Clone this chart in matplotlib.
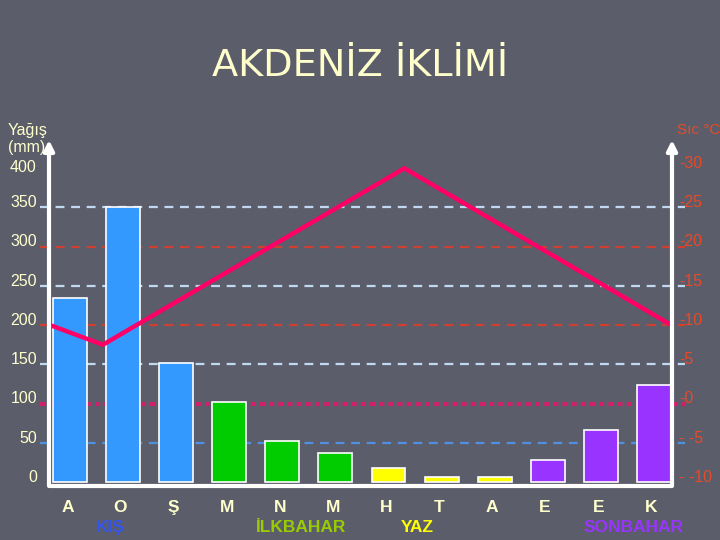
import matplotlib
matplotlib.use("Agg")
import matplotlib.pyplot as plt

# ---------------- data ----------------
months = ["A", "O", "Ş", "M", "N", "M", "H", "T", "A", "E", "E", "K"]
rain_mm = [235, 350, 152, 102, 52, 37, 18, 6, 6, 28, 66, 124]
bar_colors = ["#3399ff", "#3399ff", "#3399ff",
              "#00cc00", "#00cc00", "#00cc00",
              "#ffff00", "#ffff00", "#ffff00",
              "#9933ff", "#9933ff", "#9933ff"]
# schematic temperature line (month-position, °C)
temp_pos = [-0.37, 0.62, 6.3, 11.33]
temp_c = [10, 7.5, 30, 10]
seasons = ["KIŞ", "İLKBAHAR", "YAZ", "SONBAHAR"]
season_pos = [0.75, 4.35, 6.55, 10.62]
season_colors = ["#3355ee", "#99cc00", "#ffff00", "#9933ff"]
mm_ticks = [0, 50, 100, 150, 200, 250, 300, 350, 400]
temp_ticks = [30, 25, 20, 15, 10, 5, 0, -5, -10]
temp_labels = ["-30", "-25", "-20", "-15", "-10", "-5", "-0", "- -5", "- -10"]
title = "AKDENİZ İKLİMİ"

BG = "#5b5d6b"
CREAM = "#ffffcc"
ORANGE = "#e84a26"

fig = plt.figure(figsize=(7.2, 5.4), dpi=100, facecolor=BG)

fig.text(0.5, 1 - 66 / 540, title, ha="center", va="center", color=CREAM,
         fontsize=27.5, family="DejaVu Sans")

ax = fig.add_axes([49 / 720, 1 - 486 / 540, (672 - 49) / 720, (486 - 140) / 540])
ax.set_facecolor("none")
ymin, ymax = -5, 436
xmin, xmax = -0.395, 11.34
ax.set_ylim(ymin, ymax)
ax.set_xlim(xmin, xmax)

# gridlines (temperature-based, 10 mm per °C, -10°C = 0 mm)
grid_styles = {
    -5: dict(color="#5090e0", ls=(0, (4, 3)), lw=1.6),
    0: dict(color="#d0206a", ls=(0, (1.2, 1)), lw=3.0),
    5: dict(color="#c0d8f0", ls=(0, (4, 3)), lw=1.6),
    10: dict(color="#d04030", ls=(0, (4, 3)), lw=1.6),
    15: dict(color="#c0d8f0", ls=(0, (4, 3)), lw=1.6),
    20: dict(color="#d04030", ls=(0, (4, 3)), lw=1.6),
    25: dict(color="#c0d8f0", ls=(0, (4, 3)), lw=1.6),
}
for t, st in grid_styles.items():
    y = (t + 10) * 10
    ax.plot([xmin - 0.17, xmax + 0.25], [y, y], zorder=1, clip_on=False, **st)

x = list(range(len(months)))
ax.bar(x, rain_mm, width=0.64, color=bar_colors, edgecolor="white",
       linewidth=1.2, zorder=2)

# temperature line mapped to mm scale
temp_mm = [(t + 10) * 10 for t in temp_c]
ax.plot(temp_pos, temp_mm, color="#ff0066", lw=3.2, zorder=4,
        solid_capstyle="round", solid_joinstyle="round", clip_on=False)

for s in ax.spines.values():
    s.set_visible(False)
ax.set_xticks([])
ax.set_yticks([])

# axes lines with arrows
ax.plot([xmin, xmax], [ymin, ymin], color="white", lw=3, zorder=5, clip_on=False,
        solid_capstyle="butt")
for xx in (xmin, xmax):
    ax.annotate("", xy=(xx, ymax), xytext=(xx, ymin),
                arrowprops=dict(arrowstyle="-|>,head_length=0.6,head_width=0.3",
                                color="white", lw=3, shrinkA=0, shrinkB=0),
                zorder=5, annotation_clip=False)

# left tick labels
for v in mm_ticks:
    if v == 400:
        continue
    ax.text(-0.62, v + 6, str(v), ha="right", va="center", color=CREAM,
            fontsize=11.5, family="Liberation Sans")
fig.text(10 / 720, 1 - 168 / 540, "400", ha="left", va="center", color=CREAM,
         fontsize=11.5, family="Liberation Sans")
fig.text(8 / 720, 1 - 139 / 540, "Yağış\n(mm)", ha="left", va="center",
         color=CREAM, fontsize=11.5, family="Liberation Sans", linespacing=1.15)

# right tick labels
for t, lab in zip(temp_ticks, temp_labels):
    y = (t + 10) * 10 + 6
    ax.text(xmax + 0.14, y, lab, ha="left", va="center", color=ORANGE,
            fontsize=11.5, family="Liberation Sans")
fig.text(677 / 720, 1 - 130 / 540, "Sıc °C", ha="left", va="center",
         color=ORANGE, fontsize=11, family="Liberation Sans")

# month labels
for i, m in enumerate(months):
    ax.text(i - 0.05, -32, m, ha="center", va="center", color=CREAM,
            fontsize=12.5, fontweight="bold", family="Liberation Sans")

# season labels
for s, p, c in zip(seasons, season_pos, season_colors):
    ax.text(p, -58, s, ha="center", va="center", color=c,
            fontsize=12.5, fontweight="bold", family="Liberation Sans")

fig.savefig("out.png", dpi=100, facecolor=BG)
